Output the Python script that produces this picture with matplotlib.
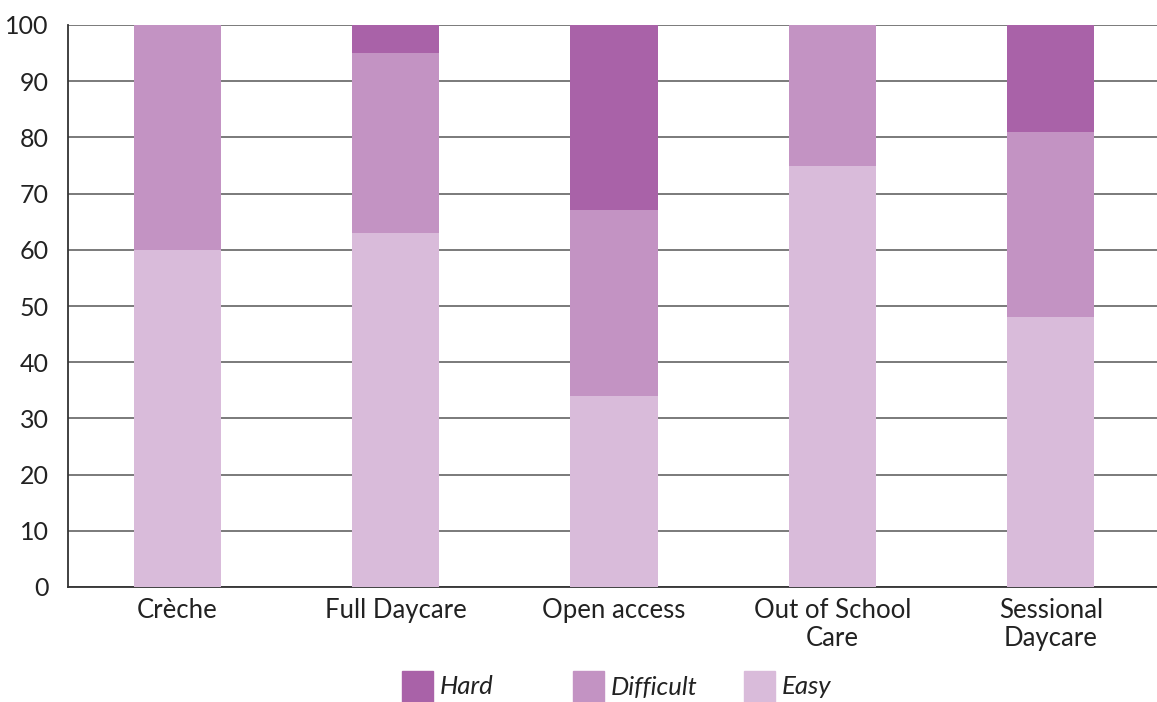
import matplotlib
matplotlib.use("Agg")
import matplotlib.pyplot as plt
from matplotlib.patches import Rectangle
import numpy as np

categories = ["Crèche", "Full Daycare", "Open access", "Out of School\nCare", "Sessional\nDaycare"]
easy = [60, 63, 34, 75, 48]
difficult = [40, 32, 33, 25, 33]
hard = [0, 5, 33, 0, 19]
y_ticks = [0, 10, 20, 30, 40, 50, 60, 70, 80, 90, 100]
legend_labels = ["Hard", "Difficult", "Easy"]

c_hard = "#A962A8"
c_difficult = "#C393C3"
c_easy = "#D9BBDA"

plt.rcParams["font.family"] = ["Lato", "DejaVu Sans"]

W, H = 1157, 702
fig = plt.figure(figsize=(W / 100, H / 100), dpi=100)
ax = fig.add_axes([68 / W, 1 - 587 / H, (1160 - 68) / W, (587 - 25) / H])

x = np.arange(len(categories))
w = 0.4
easy_a = np.array(easy)
diff_a = np.array(difficult)
hard_a = np.array(hard)
ax.bar(x, easy_a, w, color=c_easy, zorder=3)
ax.bar(x, diff_a, w, bottom=easy_a, color=c_difficult, zorder=3)
ax.bar(x, hard_a, w, bottom=easy_a + diff_a, color=c_hard, zorder=3)

ax.set_xlim(-0.5, len(categories) - 0.5)
ax.set_ylim(0, 100)
ax.set_yticks(y_ticks)
ax.set_xticks(x)
ax.set_xticklabels(categories, linespacing=1.15)
ax.tick_params(axis="x", length=0, labelsize=18.5, colors="#222222", pad=8)
ax.tick_params(axis="y", length=0, labelsize=18, colors="#222222", pad=14)
ax.yaxis.grid(True, color="#707070", linewidth=1.3, zorder=0)
ax.spines["right"].set_visible(False)
ax.spines["top"].set_visible(False)
for s in ["left", "bottom"]:
    ax.spines[s].set_color("#333333")
    ax.spines[s].set_linewidth(1.3)

# Legend row below the chart, drawn in figure pixel space
for i, (lab, col) in enumerate(zip(legend_labels, [c_hard, c_difficult, c_easy])):
    x0 = 402 + i * 171
    fig.patches.append(Rectangle((x0 / W, 1 - 702 / H), 31 / W, 31 / H,
                                 transform=fig.transFigure, color=col, figure=fig))
    fig.text((x0 + 38) / W, 1 - 687 / H, lab, fontsize=18.5, style="italic",
             color="#222222", va="center", ha="left")

fig.savefig("out.png", dpi=100)
